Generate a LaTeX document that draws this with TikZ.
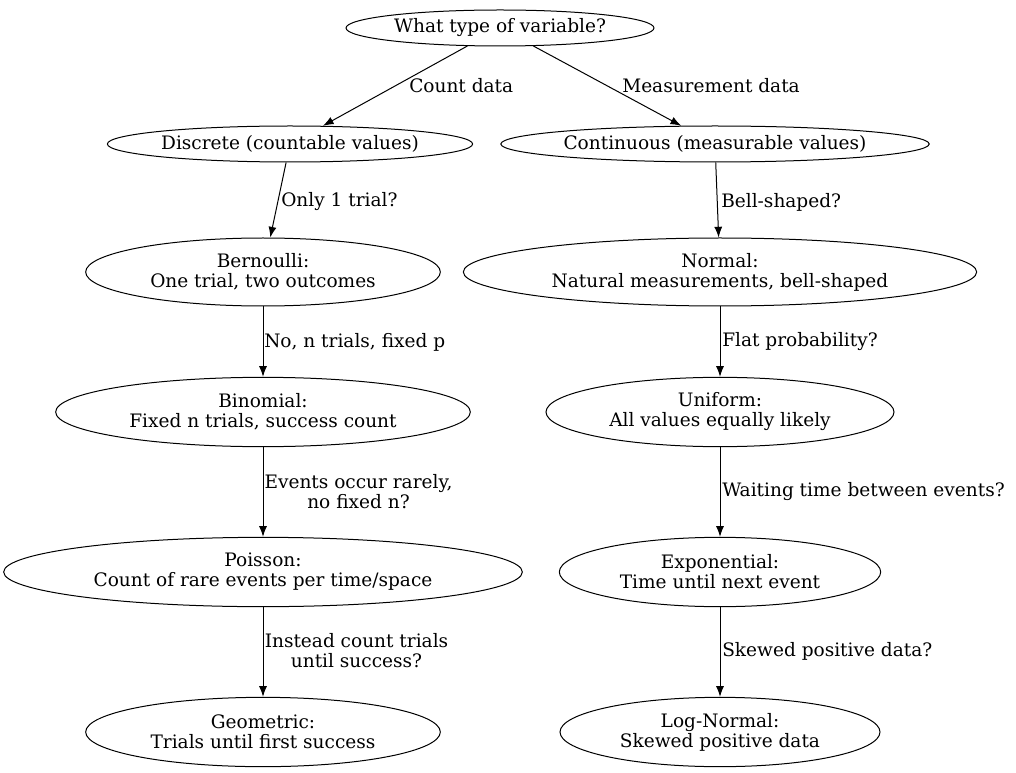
\documentclass[tikz,border=0pt]{standalone}
\usepackage{fontspec}
\setmainfont{DejaVu Serif}
\usetikzlibrary{shapes.geometric,arrows.meta}
\begin{document}
\begin{tikzpicture}[x=0.75pt,y=-0.75pt,
  ell/.style={ellipse,draw,line width=0.75pt,inner sep=0pt,align=center,font=\fontsize{13.9}{15}\selectfont},
  lbl/.style={font=\fontsize{13.9}{15}\selectfont,inner sep=0pt,align=center},
  arr/.style={-{Latex[length=8pt,width=6pt]},line width=0.75pt}]
\useasboundingbox (0,0) rectangle (1016,773);
\node[ell,minimum width=231pt,minimum height=27pt] (top) at (500,28) {What type of variable?};
\node[ell,minimum width=274pt,minimum height=27pt] (disc) at (290,144) {Discrete (countable values)};
\node[ell,minimum width=320pt,minimum height=27pt] (cont) at (715,144) {Continuous (measurable values)};
\node[ell,minimum width=266pt,minimum height=51pt] (bern) at (263,272) {Bernoulli:\\One trial, two outcomes};
\node[ell,minimum width=385pt,minimum height=51pt] (norm) at (720,272) {Normal:\\Natural measurements, bell-shaped};
\node[ell,minimum width=311pt,minimum height=52pt] (binom) at (263,412) {Binomial:\\Fixed n trials, success count};
\node[ell,minimum width=261pt,minimum height=52pt] (unif) at (720,412) {Uniform:\\All values equally likely};
\node[ell,minimum width=389pt,minimum height=52pt] (pois) at (263,572) {Poisson:\\Count of rare events per time/space};
\node[ell,minimum width=241pt,minimum height=52pt] (expo) at (720,572) {Exponential:\\Time until next event};
\node[ell,minimum width=266pt,minimum height=52pt] (geom) at (263,732) {Geometric:\\Trials until first success};
\node[ell,minimum width=240pt,minimum height=52pt] (lnorm) at (720,732) {Log-Normal:\\Skewed positive data};
\draw[arr] (top) -- (disc);
\draw[arr] (top) -- (cont);
\draw[arr] (disc) -- (bern);
\draw[arr] (cont) -- (norm);
\draw[arr] (bern) -- (binom);
\draw[arr] (norm) -- (unif);
\draw[arr] (binom) -- (pois);
\draw[arr] (unif) -- (expo);
\draw[arr] (pois) -- (geom);
\draw[arr] (expo) -- (lnorm);
\node[lbl,anchor=west] (l1) at (409,86) {Count data};
\node[lbl,anchor=west] (l2) at (622,86) {Measurement data};
\node[lbl,anchor=west] (l3) at (281,202) {Only 1 trial?};
\node[lbl,anchor=west] (l4) at (721,202) {Bell-shaped?};
\node[lbl,anchor=west] (l5) at (264,342) {No, n trials, fixed p};
\node[lbl,anchor=west] (l6) at (722,342) {Flat probability?};
\node[lbl] (l7) at (358.5,492) {Events occur rarely,\\no fixed n?};
\node[lbl,anchor=west] (l8) at (722,492) {Waiting time between events?};
\node[lbl] (l9) at (356.5,651) {Instead count trials\\until success?};
\node[lbl,anchor=west] (l10) at (722,651) {Skewed positive data?};
\end{tikzpicture}
\end{document}
